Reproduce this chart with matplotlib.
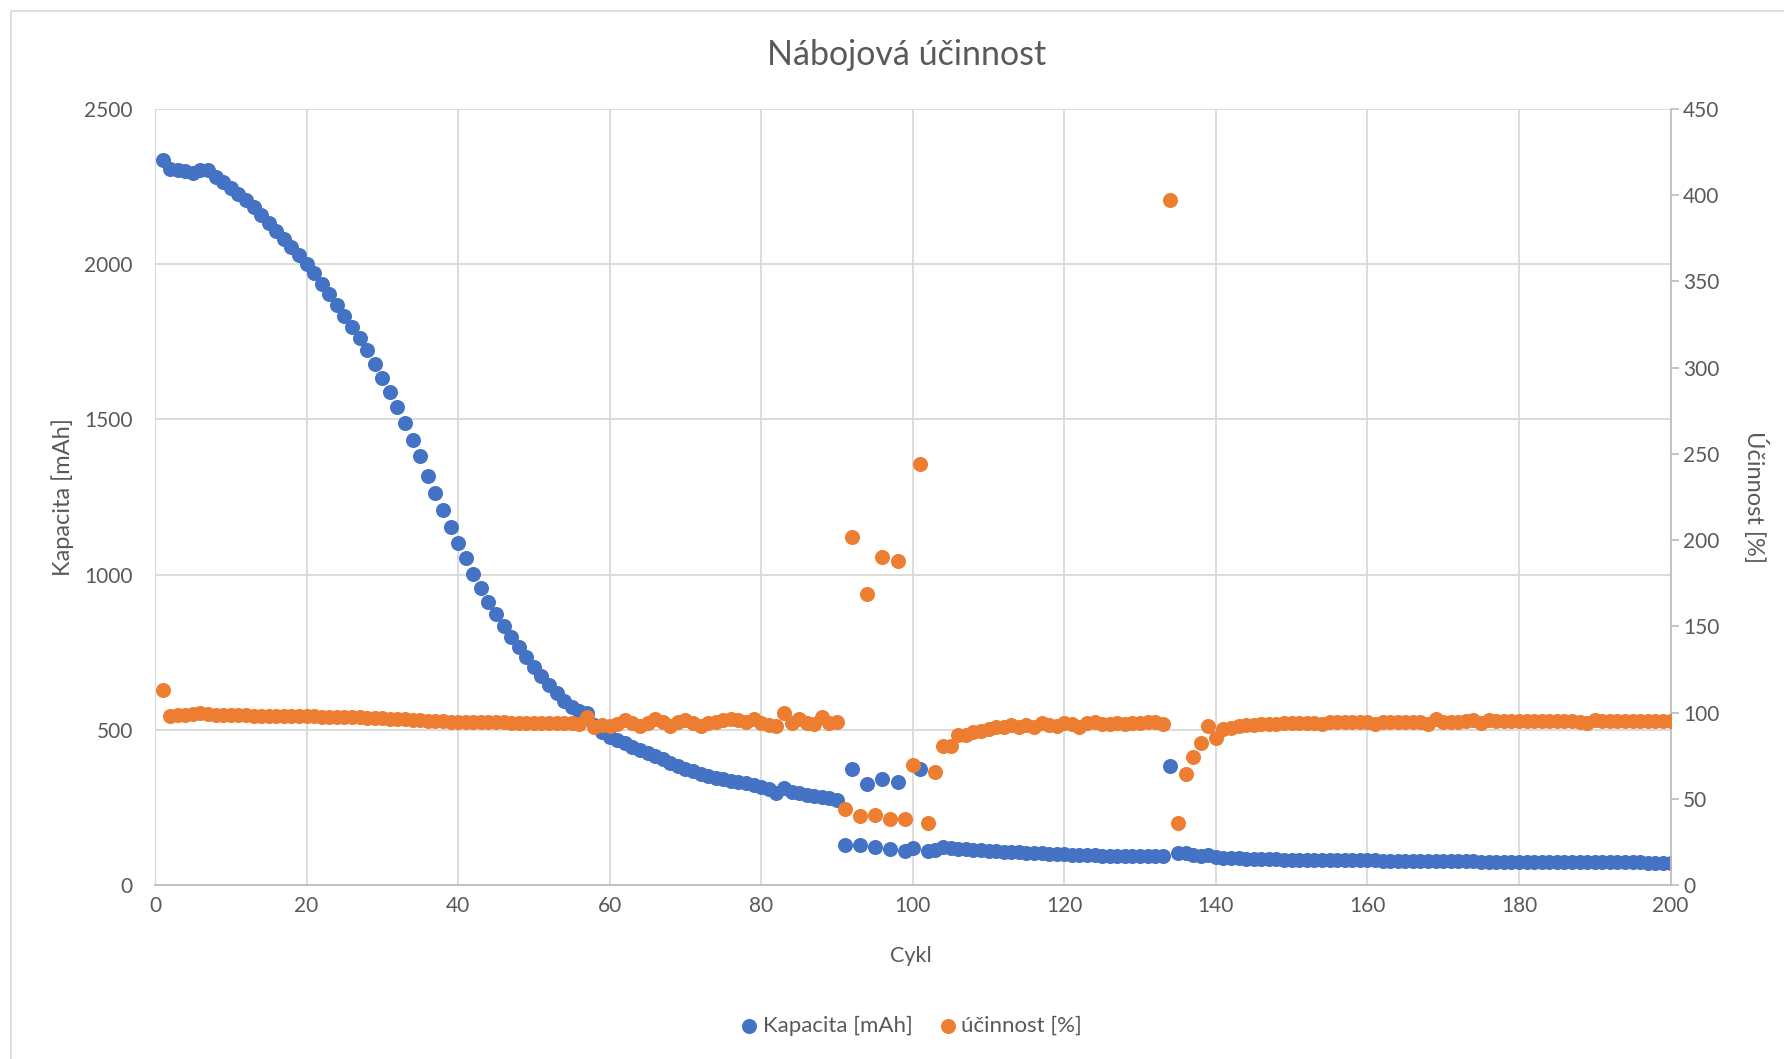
import matplotlib.pyplot as plt
from matplotlib.patches import Rectangle

plt.rcParams['font.family'] = ['Lato', 'DejaVu Sans']

cycles = list(range(1, 201))

kapacita = [
    2336, 2308, 2302, 2299, 2294, 2305, 2302, 2282, 2264, 2246,
    2227, 2207, 2184, 2159, 2132, 2106, 2081, 2055, 2030, 2000,
    1971, 1937, 1904, 1869, 1834, 1799, 1762, 1722, 1679, 1633,
    1587, 1540, 1488, 1434, 1383, 1319, 1263, 1208, 1152, 1101,
    1055, 1003, 958, 913, 873, 836, 799, 766, 734, 702,
    672, 645, 618, 594, 575, 562, 554, 515, 492, 478,
    466, 456, 446, 434, 424, 416, 405, 392, 384, 375,
    366, 358, 352, 346, 341, 336, 332, 327, 322, 316,
    308, 296, 312, 300, 295, 290, 286, 282, 279, 274,
    129, 373, 129, 325, 122, 341, 117, 333, 110, 119,
    373, 110, 113, 122, 119, 117, 116, 114, 112, 110,
    109, 107, 106, 105, 104, 103, 102, 101, 100, 99,
    98, 97, 97, 96, 95, 95, 94, 94, 93, 93,
    92, 92, 92, 382, 103, 102, 98, 95, 96, 90,
    88, 87, 86, 85, 84, 84, 83, 83, 82, 82,
    82, 81, 81, 81, 80, 80, 80, 79, 79, 79,
    79, 78, 78, 78, 78, 77, 77, 77, 77, 76,
    76, 76, 76, 76, 75, 75, 75, 75, 75, 75,
    74, 74, 74, 74, 74, 74, 74, 73, 73, 73,
    73, 73, 73, 73, 73, 73, 72, 72, 72, 72,
]

ucinnost = [
    112.8, 98.1, 98.6, 98.8, 99.0, 99.5, 98.9, 98.6, 98.5, 98.4,
    98.4, 98.3, 98.2, 98.2, 98.1, 98.0, 98.0, 97.9, 97.9, 97.8,
    97.8, 97.7, 97.6, 97.6, 97.5, 97.4, 97.2, 97.0, 96.9, 96.7,
    96.5, 96.3, 96.1, 95.9, 95.6, 95.3, 95.0, 94.9, 94.8, 94.7,
    94.6, 94.5, 94.4, 94.4, 94.3, 94.3, 94.2, 94.2, 94.1, 94.1,
    94.0, 94.0, 93.9, 93.8, 93.7, 93.6, 97.7, 91.6, 92.9, 92.3,
    93.5, 95.8, 93.9, 92.0, 93.9, 96.2, 94.8, 92.0, 94.8, 95.8,
    93.9, 92.0, 93.9, 94.8, 95.8, 96.2, 95.8, 94.8, 96.2, 94.2,
    92.9, 92.0, 99.7, 93.9, 96.2, 94.2, 93.5, 97.3, 94.2, 94.7,
    44.3, 202.0, 39.9, 169.0, 40.5, 190.0, 38.5, 188.0, 38.0, 69.5,
    244.0, 36.2, 65.4, 80.5, 80.5, 86.9, 86.9, 88.8, 89.4, 90.2,
    91.4, 91.7, 92.7, 91.4, 92.7, 91.4, 94.0, 92.7, 92.1, 94.0,
    93.3, 91.7, 94.0, 94.6, 93.3, 93.3, 94.0, 93.3, 93.7, 93.7,
    94.6, 94.6, 93.3, 397.0, 36.0, 64.3, 74.3, 82.6, 92.1, 85.4,
    90.2, 91.0, 92.0, 92.6, 93.0, 93.2, 93.4, 93.6, 93.8, 94.0,
    94.1, 94.0, 94.2, 93.3, 94.3, 94.4, 94.4, 94.5, 94.5, 94.6,
    93.6, 94.6, 94.7, 94.6, 94.7, 94.6, 94.4, 93.6, 96.0, 94.8,
    94.8, 94.7, 95.0, 95.5, 93.7, 95.6, 94.9, 94.9, 95.0, 94.9,
    95.0, 94.9, 95.0, 95.1, 94.9, 95.0, 95.0, 94.6, 93.8, 95.6,
    95.1, 95.1, 95.0, 95.1, 95.0, 95.1, 95.1, 95.1, 95.0, 95.1,
]

text_c = '#595959'
grid_c = '#D9D9D9'
axis_c = '#BFBFBF'
W, H = 1784, 1059

fig = plt.figure(figsize=(W / 100, H / 100), dpi=100)
fig.add_artist(Rectangle((11 / W, -0.1), 1.2, 1.1 - 11 / H, transform=fig.transFigure,
                         fill=False, edgecolor=grid_c, lw=1.2))

ax = fig.add_axes([155 / W, 1 - 885 / H, (1670.5 - 155) / W, (885 - 109) / H])
ax2 = ax.twinx()

ax.scatter(cycles, kapacita, s=117, color='#4472C4', linewidths=0, label='Kapacita [mAh]', zorder=3)
ax2.scatter(cycles, ucinnost, s=117, color='#ED7D31', linewidths=0, label='účinnost [%]', zorder=3)

ax.set_xlim(0, 200)
ax.set_ylim(0, 2500)
ax2.set_ylim(0, 450)
ax.set_xticks(range(0, 201, 20))
ax.set_yticks(range(0, 2501, 500))
ax2.set_yticks(range(0, 451, 50))

ax.grid(True, color=grid_c, lw=1.3)
ax.set_axisbelow(True)

for s in ['top', 'right']:
    ax.spines[s].set_visible(False)
ax.spines['left'].set_color(grid_c)
ax.spines['bottom'].set_color(axis_c)
ax.spines['bottom'].set_linewidth(1.3)
for s in ['top', 'left', 'bottom']:
    ax2.spines[s].set_visible(False)
ax2.spines['right'].set_color(axis_c)
ax2.spines['right'].set_linewidth(1.3)

ax.tick_params(axis='x', length=0, pad=8, labelsize=15, labelcolor=text_c)
ax.tick_params(axis='y', length=0, pad=16, labelsize=15, labelcolor=text_c)
ax2.tick_params(axis='y', length=6, width=1.3, color=axis_c, pad=3, labelsize=15, labelcolor=text_c)

fig.text(907 / W, 1 - 55 / H, 'Nábojová účinnost', ha='center', va='center', fontsize=24.5, color=text_c)
fig.text(63 / W, 1 - 497 / H, 'Kapacita [mAh]', ha='center', va='center', rotation=90, fontsize=17, color=text_c)
fig.text(1756 / W, 1 - 497 / H, 'Účinnost [%]', ha='center', va='center', rotation=270, fontsize=17, color=text_c)
fig.text(911 / W, 1 - 956 / H, 'Cykl', ha='center', va='center', fontsize=15.5, color=text_c)

h1, l1 = ax.get_legend_handles_labels()
h2, l2 = ax2.get_legend_handles_labels()
fig.legend(h1 + h2, l1 + l2, loc='center', bbox_to_anchor=(909 / W, 1 - 1026 / H), ncol=2,
           frameon=False, fontsize=16, labelcolor=text_c, scatterpoints=1, markerscale=1.0,
           handletextpad=0.0, columnspacing=1.0, handlelength=1.2)

fig.savefig('out.png', dpi=100)
